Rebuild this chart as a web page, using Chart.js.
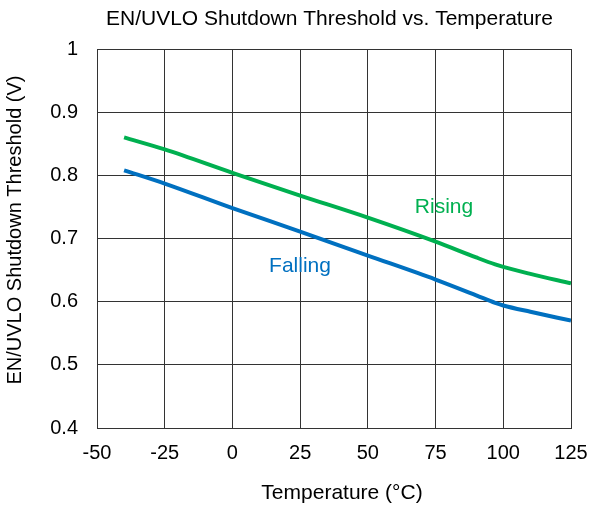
<!DOCTYPE html>
<html lang="en">
<head>
    <meta charset="UTF-8" />
    <title>EN/UVLO Shutdown Threshold vs. Temperature</title>
    <script src="https://cdn.jsdelivr.net/npm/chart.js"></script>
    <style>
        html, body { margin: 0; padding: 0; background: #fff; }
        #box { width: 590px; height: 507px; }
    </style>
</head>
<body>
    <div id="box"><canvas id="grafico"></canvas></div>

<script>
    // dados
    const temperaturas = [-40, -25, 0, 25, 50, 75, 90, 97, 100, 110, 125];
    const subida = [0.860, 0.841, 0.804, 0.768, 0.733, 0.695, 0.670, 0.659, 0.655, 0.644, 0.629];
    const descida = [0.808, 0.787, 0.748, 0.711, 0.673, 0.635, 0.610, 0.598, 0.594, 0.584, 0.570];
    const ticksX = [-50, -25, 0, 25, 50, 75, 100, 125];
    const ticksY = [0.4, 0.5, 0.6, 0.7, 0.8, 0.9, 1];

    const titulo = 'EN/UVLO Shutdown Threshold vs. Temperature';
    const tituloX = 'Temperature (°C)';
    const tituloY = 'EN/UVLO Shutdown Threshold (V)';

    const verde = '#00b050';
    const azul = '#0070c0';
    const fonte = '"Liberation Sans", Arial, sans-serif';

    function pontos(valores) {
        const lista = [];
        for (let i = 0; i < temperaturas.length; i++) {
            lista.push({ x: temperaturas[i], y: valores[i] });
        }
        return lista;
    }

    // textos desenhados à mão para posicionar igual ao original
    const textos = {
        id: 'textos',
        afterDraw(chart) {
            const ctx = chart.ctx;
            ctx.save();
            ctx.textAlign = 'center';
            ctx.textBaseline = 'middle';
            ctx.fillStyle = '#000';
            ctx.font = '21px ' + fonte;
            ctx.fillText(titulo, 329.5, 19);
            ctx.fillText(tituloX, 342, 493);
            ctx.font = '20px ' + fonte;
            ctx.save();
            ctx.translate(15, 230);
            ctx.rotate(-Math.PI / 2);
            ctx.fillText(tituloY, 0, 0);
            ctx.restore();
            ctx.font = '21px ' + fonte;
            ctx.fillStyle = verde;
            ctx.fillText('Rising', 444, 207);
            ctx.fillStyle = azul;
            ctx.fillText('Falling', 300, 266);
            ctx.restore();
        }
    };

    const config = {
        type: 'line',
        data: {
            datasets: [{
                label: 'Rising',
                data: pontos(subida),
                borderColor: verde,
                borderWidth: 4,
                pointRadius: 0,
                cubicInterpolationMode: 'monotone'
            }, {
                label: 'Falling',
                data: pontos(descida),
                borderColor: azul,
                borderWidth: 4,
                pointRadius: 0,
                cubicInterpolationMode: 'monotone'
            }]
        },
        options: {
            responsive: true,
            maintainAspectRatio: false,
            animation: false,
            layout: { padding: { top: 49, right: 19, left: 0, bottom: 0 } },
            plugins: {
                legend: { display: false },
                tooltip: { enabled: false }
            },
            scales: {
                x: {
                    type: 'linear',
                    min: -50,
                    max: 125,
                    afterBuildTicks: s => { s.ticks = ticksX.map(v => ({ value: v })); },
                    afterFit: s => { s.height = 79; s.paddingLeft = 0; s.paddingRight = 0; },
                    grid: { color: '#333', drawTicks: false },
                    border: { color: '#333' },
                    ticks: { color: '#000', padding: 13, font: { family: fonte, size: 20 } }
                },
                y: {
                    min: 0.4,
                    max: 1,
                    afterBuildTicks: s => { s.ticks = ticksY.map(v => ({ value: v })); },
                    afterFit: s => { s.width = 97; s.paddingTop = 0; s.paddingBottom = 0; },
                    grid: { color: '#333', drawTicks: false },
                    border: { color: '#333' },
                    ticks: {
                        color: '#000',
                        padding: 19,
                        font: { family: fonte, size: 20 },
                        callback: v => (v === 1 ? '1' : v.toFixed(1))
                    }
                }
            }
        },
        plugins: [textos]
    };

    const grafico = new Chart(document.getElementById('grafico'), config);
</script>
</body>
</html>
